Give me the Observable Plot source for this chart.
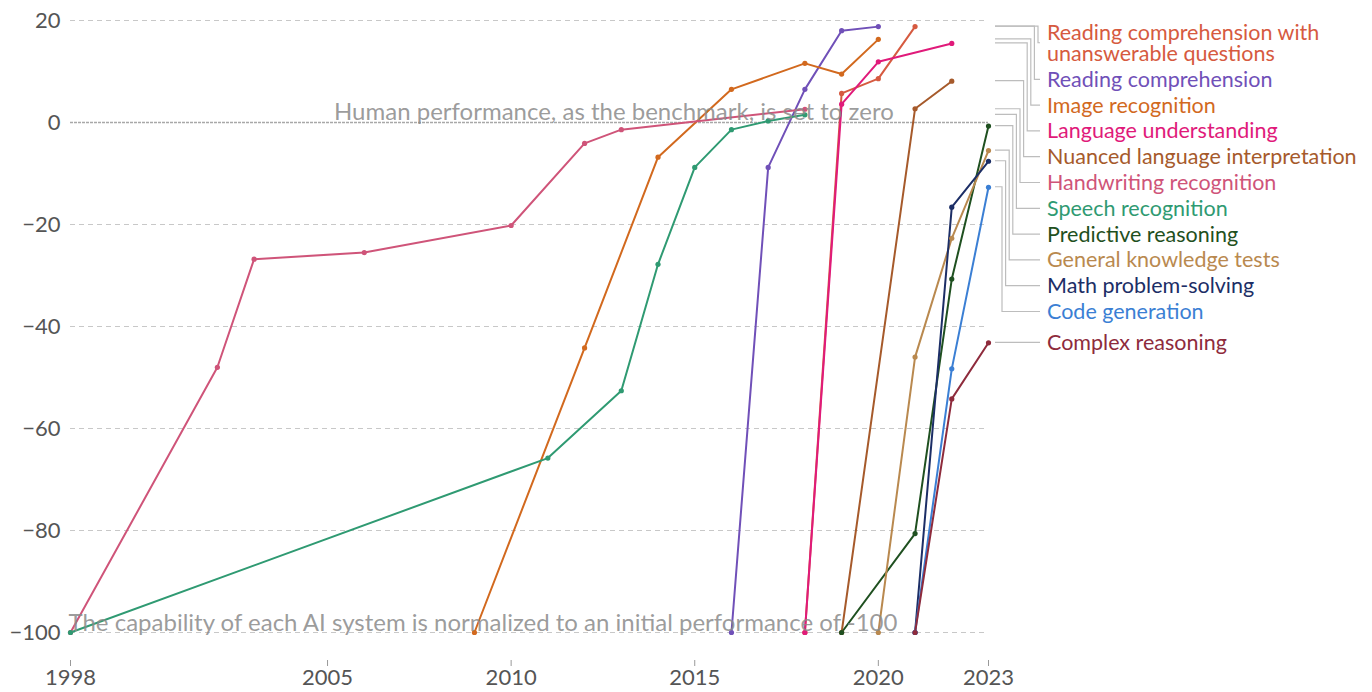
<!DOCTYPE html>
<html><head><meta charset="utf-8">
<script src="https://cdn.jsdelivr.net/npm/d3@7"></script>
<script src="https://cdn.jsdelivr.net/npm/@observablehq/plot@0.6"></script>
<style>
html,body{margin:0;padding:0;background:#fff;}
#chart{font-family:Lato,sans-serif;}
</style></head><body><div id="chart"></div>
<script>
// ---- data ----
const categories = [
  "Reading comprehension with unanswerable questions",
  "Reading comprehension",
  "Image recognition",
  "Language understanding",
  "Nuanced language interpretation",
  "Handwriting recognition",
  "Speech recognition",
  "Predictive reasoning",
  "General knowledge tests",
  "Math problem-solving",
  "Code generation",
  "Complex reasoning"
];
const labelLines = [
  ["Reading comprehension with", "unanswerable questions"],
  ["Reading comprehension"], ["Image recognition"], ["Language understanding"],
  ["Nuanced language interpretation"], ["Handwriting recognition"], ["Speech recognition"],
  ["Predictive reasoning"], ["General knowledge tests"], ["Math problem-solving"],
  ["Code generation"], ["Complex reasoning"]
];
const colors = ["#d65a40", "#7050b8", "#d2691e", "#e01a7a", "#a65a2b", "#cf5479",
                "#2f9a72", "#1f5020", "#b9894f", "#1c2e66", "#3b7fd4", "#8e2b3c"];

const rcuYears = [2018, 2019, 2020, 2021];
const rcuValues = [-100, 5.7, 8.6, 18.8];
const readingYears = [2016, 2017, 2018, 2019, 2020];
const readingValues = [-100, -8.8, 6.5, 18, 18.8];
const imageYears = [2009, 2012, 2014, 2016, 2018, 2019, 2020];
const imageValues = [-100, -44.2, -6.8, 6.5, 11.6, 9.5, 16.3];
const languageYears = [2018, 2019, 2020, 2022];
const languageValues = [-100, 3.6, 11.9, 15.5];
const nuancedYears = [2019, 2021, 2022];
const nuancedValues = [-100, 2.7, 8.1];
const handwritingYears = [1998, 2002, 2003, 2006, 2010, 2012, 2013, 2018];
const handwritingValues = [-100, -48, -26.8, -25.5, -20.2, -4.1, -1.4, 2.6];
const speechYears = [1998, 2011, 2013, 2014, 2015, 2016, 2017, 2018];
const speechValues = [-100, -65.8, -52.6, -27.8, -8.8, -1.4, 0.3, 1.5];
const predictiveYears = [2019, 2021, 2022, 2023];
const predictiveValues = [-100, -80.6, -30.7, -0.7];
const generalYears = [2020, 2021, 2022, 2023];
const generalValues = [-100, -46, -22.7, -5.5];
const mathYears = [2021, 2022, 2023];
const mathValues = [-100, -16.6, -7.6];
const codeYears = [2021, 2022, 2023];
const codeValues = [-100, -48.3, -12.7];
const complexYears = [2021, 2022, 2023];
const complexValues = [-100, -54.2, -43.2];

const xTicks = [1998, 2005, 2010, 2015, 2020, 2023];
const yTicks = [20, 0, -20, -40, -60, -80, -100];
const humanNote = "Human performance, as the benchmark, is set to zero";
const initNote = "The capability of each AI system is normalized to an initial performance of -100";

// ---- build table ----
const seriesYears = [rcuYears, readingYears, imageYears, languageYears, nuancedYears, handwritingYears,
  speechYears, predictiveYears, generalYears, mathYears, codeYears, complexYears];
const seriesValues = [rcuValues, readingValues, imageValues, languageValues, nuancedValues, handwritingValues,
  speechValues, predictiveValues, generalValues, mathValues, codeValues, complexValues];
const rows = [];
categories.forEach((c, i) => seriesYears[i].forEach((yr, j) => rows.push({category: c, year: yr, value: seriesValues[i][j]})));
const colorOf = Object.fromEntries(categories.map((c, i) => [c, colors[i]]));
const lastOf = categories.map((c, i) => seriesValues[i][seriesValues[i].length - 1]);

const AXIS_FONT = 22, NOTE_FONT = 24, LABEL_FONT = 21.5;
const chart = Plot.plot({
  width: 1372, height: 692,
  marginLeft: 70, marginRight: 384, marginTop: 20, marginBottom: 60,
  style: {fontFamily: "Lato, sans-serif", fontSize: AXIS_FONT + "px", color: "#555", background: "#fff", overflow: "visible"},
  x: {domain: [1998, 2023]},
  y: {domain: [-100, 20]},
  marks: [
    Plot.ruleY(yTicks.filter(d => d !== 0), {y: d => d, stroke: "#c8c8c8", strokeWidth: 1, strokeDasharray: "5,4"}),
    Plot.ruleY([0], {y: d => d, stroke: "#a8a8a8", strokeWidth: 1.3, strokeDasharray: "3,1"}),
    Plot.axisY({ticks: yTicks, tickSize: 0, tickPadding: 10, label: null, fontSize: AXIS_FONT, fill: "#555"}),
    Plot.axisX({ticks: xTicks, tickFormat: d => String(d), tickSize: 6, dy: 28, label: null, fontSize: AXIS_FONT,
      fill: "#555", stroke: "#999",
      textAnchor: d => d === xTicks[0] ? "start" : d === xTicks[xTicks.length - 1] ? "end" : "middle"}),
    Plot.line(rows, {x: "year", y: "value", z: "category", stroke: d => colorOf[d.category], strokeWidth: 2}),
    Plot.dot(rows, {x: "year", y: "value", fill: d => colorOf[d.category], r: 2.6}),
    Plot.text([humanNote], {x: 2020.42, y: 0, text: d => d, textAnchor: "end", lineAnchor: "bottom", dy: -3,
      fill: "#8a8a8a", fillOpacity: 0.85, fontSize: NOTE_FONT}),
    Plot.text([initNote], {x: 1998, y: -100, text: d => d, textAnchor: "start", lineAnchor: "bottom", dy: -2, dx: -2,
      fill: "#8a8a8a", fillOpacity: 0.85, fontSize: NOTE_FONT})
  ]
});
document.getElementById("chart").appendChild(chart);

// ---- right-hand labels with leader lines ----
const ys = chart.scale("y");
const svg = d3.select(chart);
const lineH = 21.5, gap = 25.8;
const startX = 995, textX = 1047, endX = 1040;
let prevLast = 32 - gap;
const g = svg.append("g").attr("text-anchor", "start");
categories.forEach((c, i) => {
  const lines = labelLines[i];
  const vy = ys.apply(lastOf[i]);
  const desiredFirst = vy - (lines.length - 1) * lineH / 2;
  const first = Math.max(desiredFirst, prevLast + gap);
  const ly = first + (lines.length - 1) * lineH / 2;
  prevLast = first + (lines.length - 1) * lineH;
  const elbow = 1038 - i * 3.6;
  const path = Math.abs(ly - vy) < 1
    ? `M${startX},${vy}H${endX}`
    : `M${startX},${vy}H${elbow}V${ly}H${endX}`;
  g.append("path").attr("d", path).attr("fill", "none").attr("stroke", "#bdbdbd").attr("stroke-width", 1.2);
  const t = g.append("text").attr("x", textX).attr("y", first).attr("text-anchor", "start")
    .attr("fill", colors[i]).attr("font-size", LABEL_FONT).attr("font-family", "Lato, sans-serif");
  lines.forEach((s, k) => {
    t.append("tspan").attr("x", textX).attr("dy", k === 0 ? "0.35em" : lineH).text(s);
  });
});
</script></body></html>
